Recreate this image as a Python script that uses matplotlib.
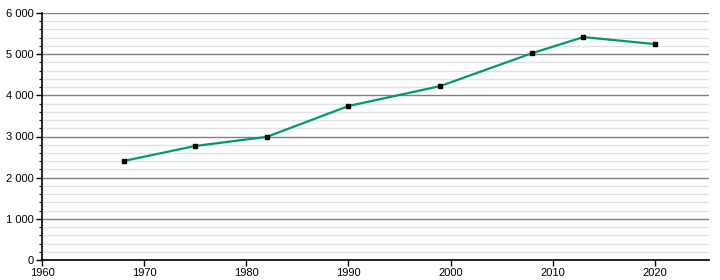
import numpy as np
import matplotlib
matplotlib.use('Agg')
import matplotlib.pyplot as plt
from matplotlib.ticker import MultipleLocator, FuncFormatter

matplotlib.rcParams.update({'font.size': 8, 'font.family': 'Liberation Sans'})

years = [1968, 1975, 1982, 1990, 1999, 2008, 2013, 2020]
population = [2405, 2770, 2990, 3740, 4225, 5025, 5415, 5245]


def thousands(v, pos):
    return '{:,}'.format(int(v)).replace(',', ' ')


fig = plt.figure(figsize=(7.2, 2.8), dpi=100)
ax = fig.add_axes([42 / 720, 20 / 280, 667 / 720, 247 / 280])

ax.plot(years, population, color='#009874', linewidth=1.6, zorder=3)
ax.plot(years, population, linestyle='none', marker='s', markersize=3.5,
        color='black', zorder=4)

ax.set_xlim(1960, 2025.3)
ax.set_ylim(0, 6000)
ax.xaxis.set_major_locator(MultipleLocator(10))
ax.yaxis.set_major_locator(MultipleLocator(1000))
ax.yaxis.set_minor_locator(MultipleLocator(200))
ax.yaxis.set_major_formatter(FuncFormatter(thousands))

ax.grid(True, which='major', axis='y', color='#808080', linewidth=1.0)
ax.grid(True, which='minor', axis='y', color='#e2e2e2', linewidth=1.0)
ax.set_axisbelow(True)

for side in ['top', 'right']:
    ax.spines[side].set_visible(False)
ax.spines['left'].set_linewidth(1.2)
ax.spines['bottom'].set_linewidth(1.2)
ax.tick_params(axis='both', which='major', length=4, width=1.0, pad=2,
               colors='black')
ax.tick_params(axis='y', which='minor', length=2.5, width=0.8)
ax.tick_params(axis='x', which='minor', bottom=False)

fig.savefig('out.png', dpi=100)
